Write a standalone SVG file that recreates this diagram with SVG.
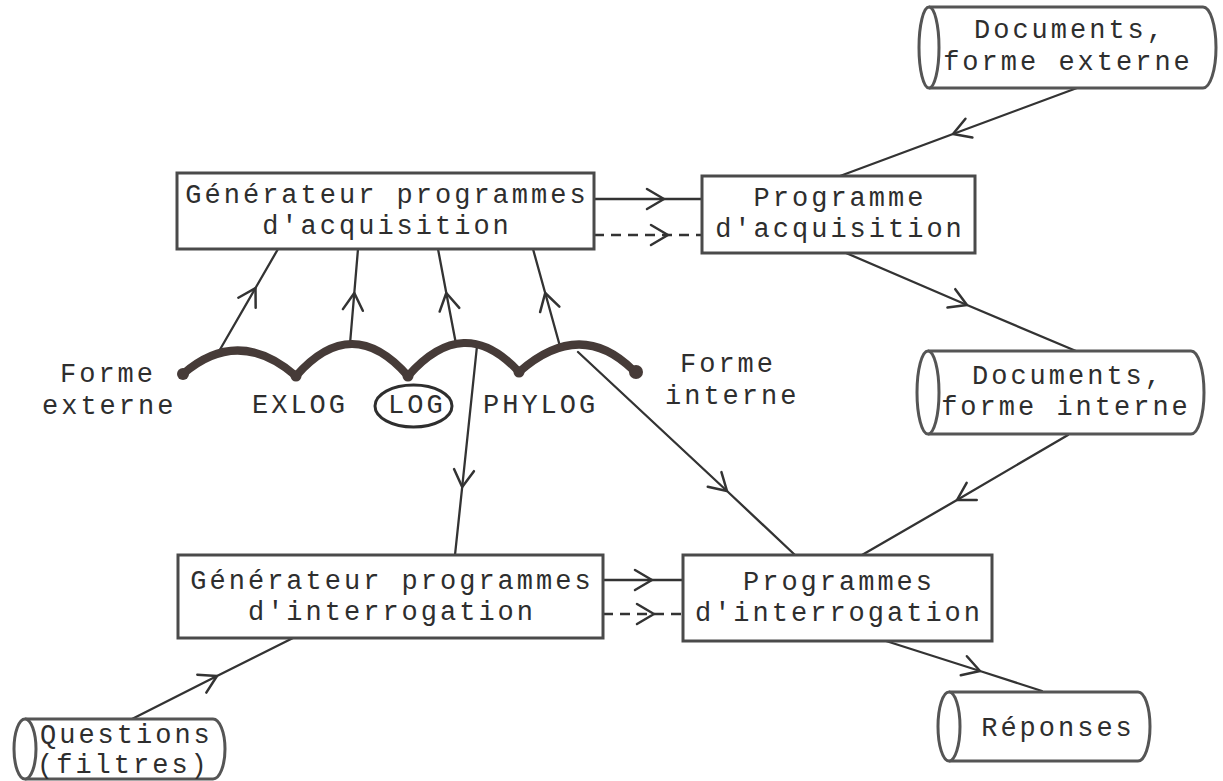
<svg xmlns="http://www.w3.org/2000/svg" width="1223" height="781" viewBox="0 0 1223 781">
  <defs>
    <style>
      .box { fill: #ffffff; stroke: #4a4a4a; stroke-width: 3; }
      .cyl { fill: #ffffff; stroke: #555555; stroke-width: 3; stroke-linejoin: round; }
      .lbl { font-family: "Liberation Mono", "DejaVu Sans Mono", monospace; font-size: 27px; letter-spacing: 3px; fill: #2e2e2e; }
      .mid { text-anchor: middle; }
      .flow { fill: none; stroke: #333333; stroke-width: 2.3; stroke-linecap: round; marker-mid: url(#chev); }
      .dash { stroke-dasharray: 10 7; stroke-linecap: butt; }
      .arc { fill: none; stroke: #463b38; stroke-width: 8; stroke-linecap: round; stroke-linejoin: round; }
      .knot { fill: #463b38; }
    </style>
    <!-- open chevron drawn halfway along each connector -->
    <marker id="chev" markerUnits="userSpaceOnUse" viewBox="-20 -20 40 40" markerWidth="40" markerHeight="40" refX="0" refY="0" orient="auto" overflow="visible">
      <path d="M-17,-10 L0,0 L-17,10" fill="none" stroke="#333333" stroke-width="2.5" stroke-dasharray="none" stroke-linecap="round" stroke-linejoin="round"/>
    </marker>
  </defs>

  <rect width="1223" height="781" fill="#ffffff"/>

  <!-- connectors -->
  <g id="connectors">
    <!-- documents (external form) to acquisition program -->
    <polyline class="flow" points="1077,88 953,134 840,176"/>
    <!-- acquisition generator to acquisition program -->
    <polyline class="flow" points="594,199 664,199 702,199"/>
    <polyline class="flow dash" points="594,235 668,235 702,235"/>
    <!-- acquisition program to documents (internal form) -->
    <polyline class="flow" points="846,253 967,305 1076,351"/>
    <!-- documents (internal form) to query programs -->
    <polyline class="flow" points="1068,435 957,500 862,555"/>
    <!-- query programs to answers -->
    <polyline class="flow" points="886,641 980,671 1042,691"/>
    <!-- query generator to query programs -->
    <polyline class="flow" points="603,580 652,580 683,580"/>
    <polyline class="flow dash" points="603,614 654,614 683,614"/>
    <!-- questions to query generator -->
    <polyline class="flow" points="132,719 217,676 293,638"/>
    <!-- levels up to the acquisition generator -->
    <polyline class="flow" points="218,353 255.5,288 278,249"/>
    <polyline class="flow" points="350,344 354.3,293 358,249"/>
    <polyline class="flow" points="456,344 446.3,293 438,249"/>
    <polyline class="flow" points="561,350 545.2,293 533,249"/>
    <!-- levels down to the query side -->
    <polyline class="flow" points="477,346 462.2,487 455,555"/>
    <polyline class="flow" points="578,352 727,491 795,555"/>
  </g>

  <!-- chain of representation levels -->
  <g id="levels">
    <path class="arc" d="M183,374 Q238,326 296,376 Q352,312 408,376 Q464,312 519,372 Q580,318 633,370"/>
    <circle class="knot" cx="183" cy="374" r="6"/>
    <circle class="knot" cx="296" cy="376" r="5.5"/>
    <circle class="knot" cx="408" cy="376" r="5.5"/>
    <circle class="knot" cx="519" cy="372" r="5.5"/>
    <circle class="knot" cx="636" cy="372" r="7"/>
    <text class="lbl" x="60" y="382">Forme</text>
    <text class="lbl" x="42" y="414">externe</text>
    <text class="lbl" x="252" y="413">EXLOG</text>
    <ellipse cx="413.5" cy="406" rx="38.5" ry="21" fill="none" stroke="#2e2e2e" stroke-width="3"/>
    <text class="lbl" x="388" y="413">LOG</text>
    <text class="lbl" x="483" y="413">PHYLOG</text>
    <text class="lbl" x="680" y="372">Forme</text>
    <text class="lbl" x="665" y="404">interne</text>
  </g>

  <g id="gen-acquisition">
    <rect class="box" x="177" y="173" width="417" height="76"/>
    <text class="lbl mid" x="387" y="203">Générateur programmes</text>
    <text class="lbl mid" x="387" y="234">d'acquisition</text>
  </g>

  <g id="prog-acquisition">
    <rect class="box" x="702" y="176" width="273" height="77"/>
    <text class="lbl mid" x="840" y="206">Programme</text>
    <text class="lbl mid" x="840" y="237">d'acquisition</text>
  </g>

  <g id="gen-interrogation">
    <rect class="box" x="178" y="555" width="425" height="83"/>
    <text class="lbl mid" x="392" y="589">Générateur programmes</text>
    <text class="lbl mid" x="392" y="620">d'interrogation</text>
  </g>

  <g id="prog-interrogation">
    <rect class="box" x="683" y="555" width="309" height="86"/>
    <text class="lbl mid" x="839" y="590">Programmes</text>
    <text class="lbl mid" x="839" y="621">d'interrogation</text>
  </g>

  <g id="doc-externe">
    <path class="cyl" d="M929,7 L1203,7 A13,40.5 0 0 1 1203,88 L929,88"/>
    <ellipse class="cyl" cx="929" cy="47.5" rx="10" ry="40.5"/>
    <text class="lbl mid" x="1070" y="38">Documents,</text>
    <text class="lbl mid" x="1068" y="70">forme externe</text>
  </g>

  <g id="doc-interne">
    <path class="cyl" d="M928,351 L1191,351 A13,41.5 0 0 1 1191,434 L928,434"/>
    <ellipse class="cyl" cx="928" cy="392.5" rx="11" ry="41.5"/>
    <text class="lbl mid" x="1068" y="384">Documents,</text>
    <text class="lbl mid" x="1066" y="415">forme interne</text>
  </g>

  <g id="reponses">
    <path class="cyl" d="M949,692 L1138,692 A12,34.5 0 0 1 1138,761 L949,761"/>
    <ellipse class="cyl" cx="949" cy="726.5" rx="11" ry="34.5"/>
    <text class="lbl mid" x="1058" y="736">Réponses</text>
  </g>

  <g id="questions">
    <path class="cyl" d="M25,719 L213,719 A12,30 0 0 1 213,779 L25,779"/>
    <ellipse class="cyl" cx="25" cy="749" rx="11" ry="30"/>
    <text class="lbl" x="40" y="743">Questions</text>
    <text class="lbl" x="37" y="773">(filtres)</text>
  </g>
</svg>
